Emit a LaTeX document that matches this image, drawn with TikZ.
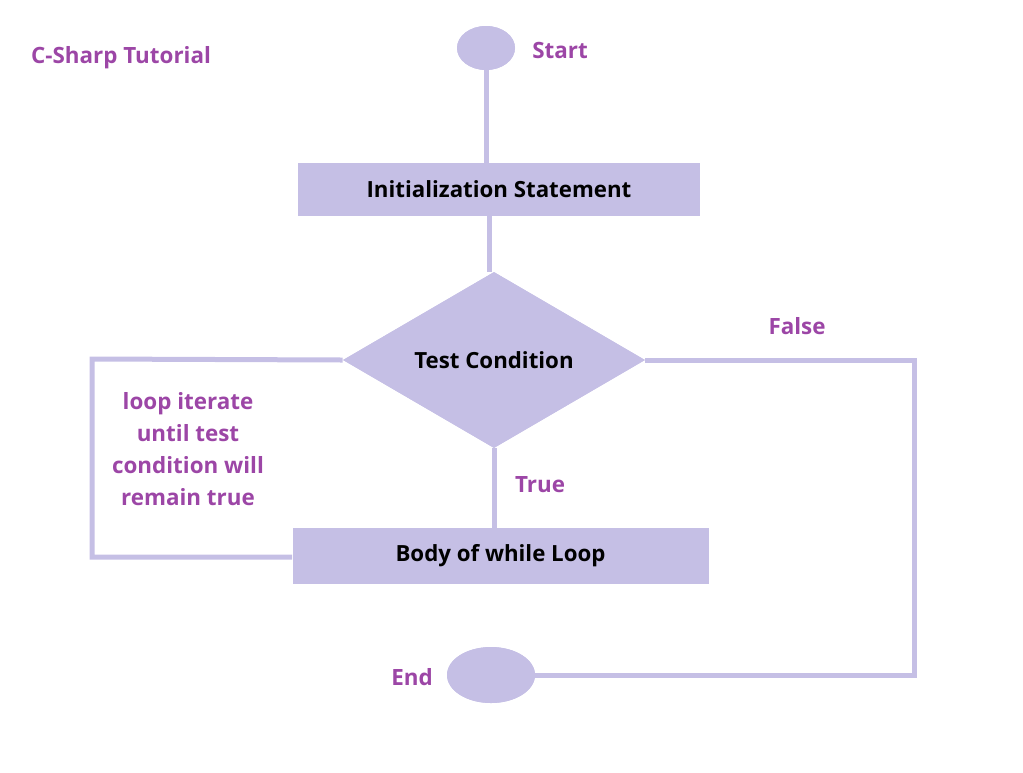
\documentclass[tikz,border=0pt]{standalone}
\usepackage{fontspec}
\setmainfont{Open Sans}
\usetikzlibrary{shapes.geometric}
\definecolor{lav}{HTML}{C5BFE5}
\definecolor{purp}{HTML}{9C46A6}
\tikzset{
  conn/.style={draw=lav, line width=3.75pt},
  boxnode/.style={rectangle, fill=lav, inner sep=0pt, font=\bfseries\fontsize{16.7}{20}\selectfont, text=black},
  ovalnode/.style={ellipse, fill=lav, inner sep=0pt},
  lbl/.style={font=\bfseries\fontsize{16.8}{20}\selectfont, text=purp},
}
\begin{document}
\begin{tikzpicture}[x=0.75pt,y=-0.75pt]
\useasboundingbox (0,0) rectangle (1023,772);
\coordinate (lt) at (92,359);
\coordinate (lb) at (92,557);
\coordinate (rt) at (914,360);
\coordinate (rb) at (914,675);
\coordinate (mid) at (489,240);
% nodes
\node[ovalnode, minimum width=43.5pt, minimum height=33pt] (start) at (486,48) {};
\node[boxnode, minimum width=301.5pt, minimum height=39.75pt] (init) at (499,189.5) {Initialization Statement};
\node[diamond, fill=lav, inner sep=0pt, minimum width=226.5pt, minimum height=132pt] (test) at (494,360) {};
\node[font=\bfseries\fontsize{16.7}{20}\selectfont] (testtxt) at (494,360) {Test Condition};
\node[boxnode, minimum width=312pt, minimum height=42pt] (body) at (500.5,556) {Body of while Loop};
\node[ovalnode, minimum width=66pt, minimum height=42pt] (end) at (491,675) {};
% connectors
\draw[conn] (start.south) -- (init.north -| start.south);
\draw[conn] (init.south -| mid) -- (test.north -| mid);
\draw[conn] (test.west) -- (lt) -- (lb) -- (body.west |- lb);
\draw[conn] (test.east) -- (rt) -- (rb) -- (end.east);
\draw[conn] (test.south) -- (body.north -| test.south);
% redraw shapes above connectors
\node[ovalnode, minimum width=43.5pt, minimum height=33pt] at (start) {};
\node[boxnode, minimum width=301.5pt, minimum height=39.75pt] at (init) {Initialization Statement};
\node[diamond, fill=lav, inner sep=0pt, minimum width=226.5pt, minimum height=132pt] at (test) {};
\node[font=\bfseries\fontsize{16.7}{20}\selectfont] at (testtxt) {Test Condition};
\node[boxnode, minimum width=312pt, minimum height=42pt] at (body) {Body of while Loop};
\node[ovalnode, minimum width=66pt, minimum height=42pt] at (end) {};
% labels
\node[lbl] (title) at (121,58) {C-Sharp Tutorial};
\node[lbl] (startlbl) at (560,50) {Start};
\node[lbl] (falselbl) at (797,326) {False};
\node[lbl] (truelbl) at (540,485) {True};
\node[lbl] (endlbl) at (412,677) {End};
\node[lbl, align=center, font=\bfseries\fontsize{16.8}{24}\selectfont] (note) at (188,449) {loop iterate\\until test\\condition will\\remain true};
\end{tikzpicture}
\end{document}
